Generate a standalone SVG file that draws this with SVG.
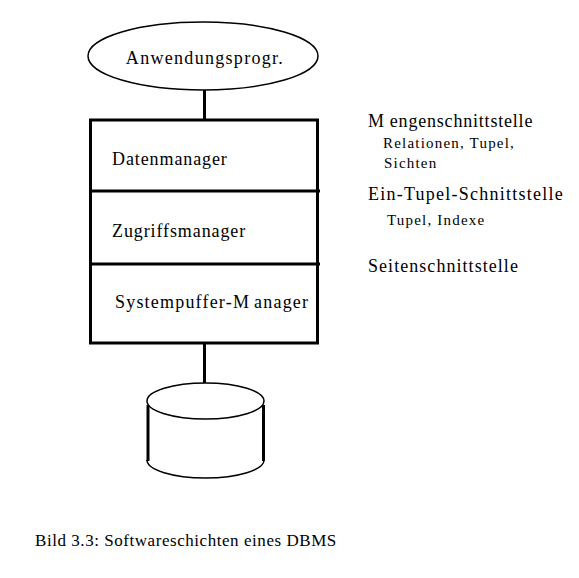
<svg xmlns="http://www.w3.org/2000/svg" width="579" height="578" viewBox="0 0 579 578" font-family="'Liberation Serif', 'Times New Roman', serif">
<style>
text{fill:#000}
.l{font-size:18px}
.s{font-size:15px;letter-spacing:1.2px}
.thin{fill:#fff;stroke:#000;stroke-width:1.5}
.thick{stroke:#000;stroke-width:3;fill:none}
</style>
<rect width="579" height="578" fill="#fff"/>
<g id="connectors">
<line class="thick" x1="204.5" y1="90" x2="204.5" y2="120"/>
<line class="thick" x1="204.5" y1="343" x2="204.5" y2="384"/>
</g>
<g id="anwendung">
<ellipse class="thin" cx="203" cy="56" rx="115" ry="34"/>
<text class="l" x="205" y="64" text-anchor="middle" letter-spacing="1.3">Anwendungsprogr.</text>
</g>
<g id="stack">
<rect class="thick" x="90.5" y="120" width="227" height="223"/>
<line class="thick" x1="90" y1="191" x2="320" y2="191"/>
<line class="thick" x1="90" y1="264" x2="320" y2="264"/>
</g>
<g id="datenmanager"><text class="l" x="112" y="165" letter-spacing="0.9">Datenmanager</text></g>
<g id="zugriffsmanager"><text class="l" x="112" y="237" letter-spacing="0.9">Zugriffsmanager</text></g>
<g id="systempuffer"><text class="l" x="115" y="308" letter-spacing="1.2">Systempuffer-M<tspan dx="4">anager</tspan></text></g>
<g id="db">
<path class="thin" d="M147,460 A58.5,18 0 0 0 264,460" fill="none"/>
<line class="thick" x1="148" y1="405" x2="148" y2="461"/>
<line class="thick" x1="263.5" y1="405" x2="263.5" y2="461"/>
<ellipse class="thin" cx="205.5" cy="401" rx="58.5" ry="18"/>
</g>
<g id="interfaces">
<text class="l" x="368" y="127" letter-spacing="0.8">M<tspan dx="5">engenschnittstelle</tspan></text>
<text class="s" x="383" y="148">Relationen, Tupel,</text>
<text class="s" x="384" y="168">Sichten</text>
<text class="l" x="368" y="200" letter-spacing="1.25">Ein-Tupel-Schnittstelle</text>
<text class="s" x="387" y="225" letter-spacing="1.15">Tupel, Indexe</text>
<text class="l" x="368" y="272" letter-spacing="1.05">Seitenschnittstelle</text>
</g>
<g id="caption"><text x="35" y="546" font-size="17" letter-spacing="0.55">Bild 3.3: Softwareschichten eines DBMS</text></g>
</svg>
